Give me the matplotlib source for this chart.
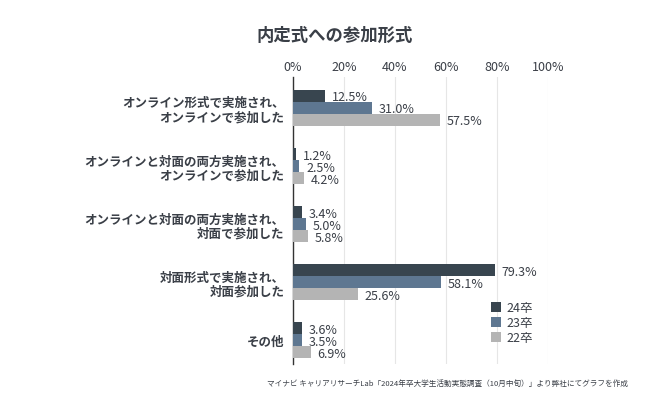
import numpy as np
import matplotlib.pyplot as plt

plt.rcParams['font.family'] = ['Noto Sans CJK JP', 'DejaVu Sans']

categories = [
    "オンライン形式で実施され、\nオンラインで参加した",
    "オンラインと対面の両方実施され、\nオンラインで参加した",
    "オンラインと対面の両方実施され、\n対面で参加した",
    "対面形式で実施され、\n対面参加した",
    "その他",
]
series = ["24卒", "23卒", "22卒"]
v24 = [12.5, 1.2, 3.4, 79.3, 3.6]
v23 = [31.0, 2.5, 5.0, 58.1, 3.5]
v22 = [57.5, 4.2, 5.8, 25.6, 6.9]
colors = ["#38454f", "#5e7791", "#b4b4b4"]
text_color = "#3a3f47"

fig = plt.figure(figsize=(6.7, 4.1), dpi=100)
ax = fig.add_axes([293/670, 1-365/410, 255/670, 287/410])

y = np.arange(len(categories))
h = 0.207
for i, (vals, c, name) in enumerate(zip([v24, v23, v22], colors, series)):
    pos = y + (i - 1) * h
    ax.barh(pos, vals, height=h, color=c, label=name, zorder=3)
    for p, v in zip(pos, vals):
        ax.text(v + 2.6, p + 0.02, f"{v:.1f}%", va="center", ha="left",
                fontsize=9, color=text_color, zorder=4)

ax.set_xlim(0, 100)
ax.set_ylim(4.41, -0.53)
ax.set_xticks([0, 20, 40, 60, 80, 100])
ax.set_xticklabels([f"{t}%" for t in [0, 20, 40, 60, 80, 100]])
ax.xaxis.tick_top()
ax.tick_params(axis="x", length=0, pad=3, labelsize=9, labelcolor=text_color)
ax.set_yticks(y)
ax.set_yticklabels(categories, fontsize=9, fontweight="bold", color=text_color,
                   linespacing=1.1)
ax.tick_params(axis="y", length=0, pad=6)
ax.grid(axis="x", color="#e6e6e6", linewidth=0.8, zorder=0)
for s in ["top", "right", "bottom"]:
    ax.spines[s].set_visible(False)
ax.spines["left"].set_color("#333333")
ax.spines["left"].set_linewidth(1.0)

ax.legend(loc="lower right", bbox_to_anchor=(0.985, 0.03), frameon=False,
          fontsize=9, handlelength=0.8, handleheight=0.8, handletextpad=0.4,
          labelspacing=0.15, labelcolor=text_color)

fig.text(0.5, 1-36/410, "内定式への参加形式", ha="center", va="center",
         fontsize=12.5, fontweight="bold", color=text_color)
fig.text(628/670, 1-384/410,
         "マイナビ キャリアリサーチLab「2024年卒大学生活動実態調査（10月中旬）」より弊社にてグラフを作成",
         ha="right", va="center", fontsize=5.5, color=text_color)

fig.savefig("out.png", dpi=100)
